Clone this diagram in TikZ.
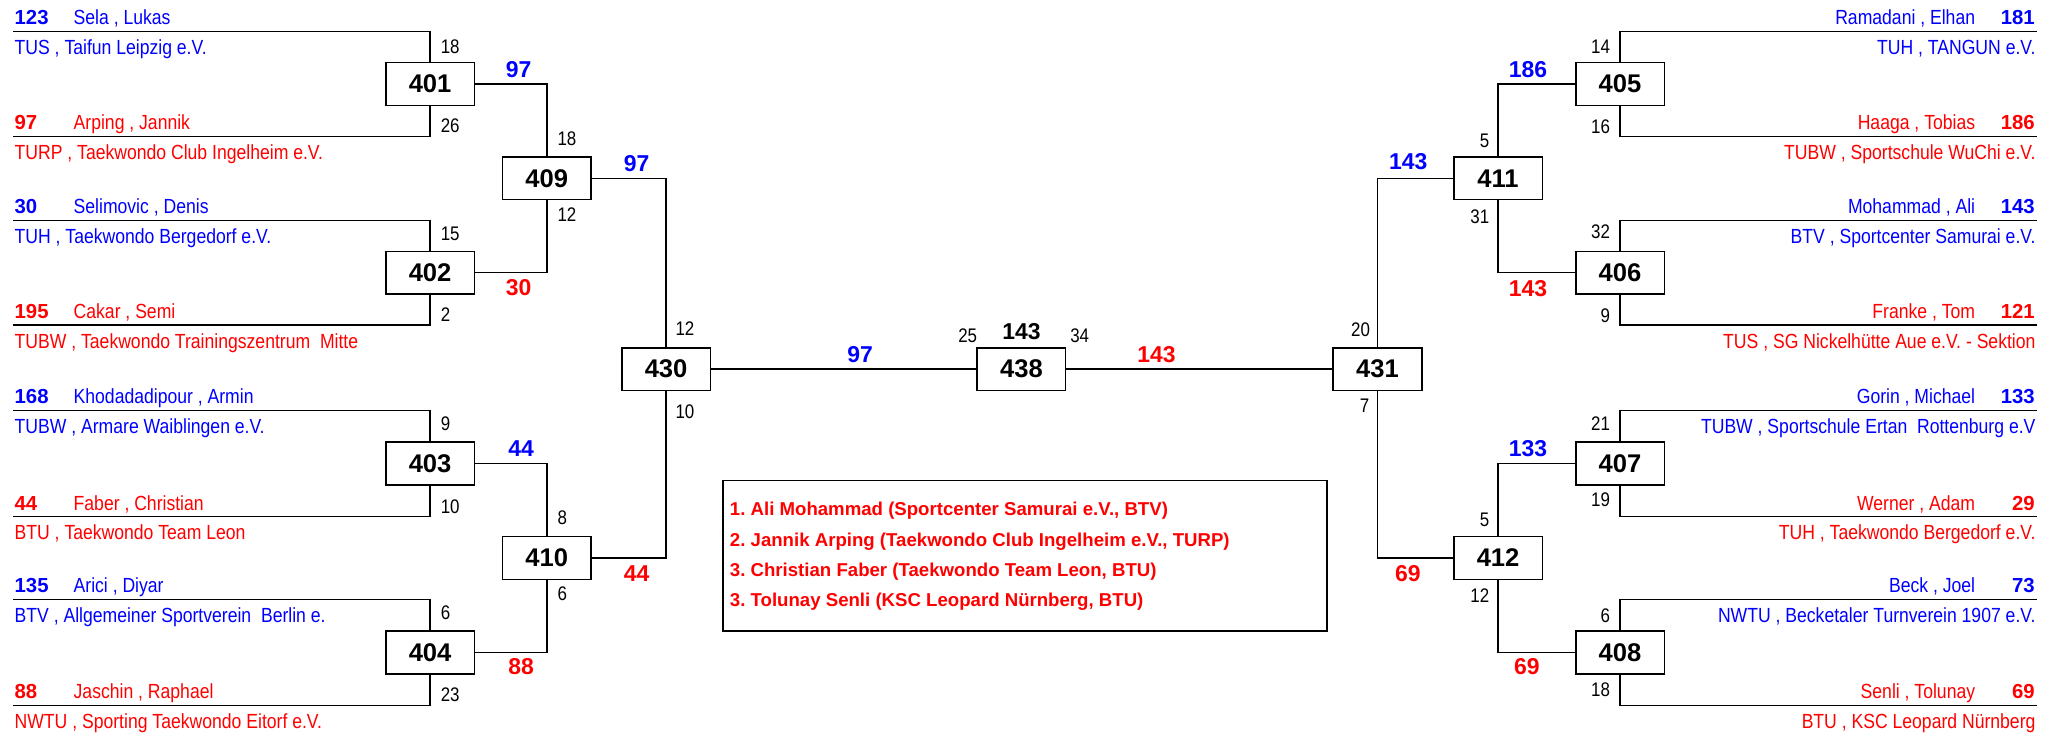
\documentclass[tikz,border=0pt]{standalone}
\usepackage{fontspec}
\setmainfont[FakeStretch=0.86]{Liberation Sans}
\newfontfamily\plainsans{Liberation Sans}
\definecolor{tblue}{RGB}{0,0,255}
\definecolor{tred}{RGB}{255,0,0}
\frenchspacing
\begin{document}
\begin{tikzpicture}[x=1pt,y=-1pt,
  ln/.style={line width=1.1pt},
  match/.style={draw,line width=1.2pt,minimum width=67.5pt,minimum height=32.6pt,inner sep=0pt,font=\plainsans\fontsize{19.5}{22}\selectfont\bfseries},
  pname/.style={font=\fontsize{15.6}{18}\selectfont,inner sep=0pt},
  pseed/.style={font=\plainsans\fontsize{15.5}{18}\selectfont\bfseries,inner sep=0pt},
  small/.style={font=\fontsize{15}{17}\selectfont,inner sep=0pt},
  win/.style={font=\plainsans\fontsize{17.5}{20}\selectfont\bfseries,inner sep=0pt},
  leg/.style={font=\plainsans\fontsize{14.2}{17}\selectfont\bfseries\frenchspacing,text=tred,inner sep=0pt,anchor=base west}]
\useasboundingbox (0,0) rectangle (1568,560);
% match boxes
\node[match] (m401) at (328,64) {401};
\node[match] (m402) at (328,208) {402};
\node[match] (m403) at (328,353.5) {403};
\node[match] (m404) at (328,497.5) {404};
\node[match] (m409) at (417,136) {409};
\node[match] (m410) at (417,425.5) {410};
\node[match] (m430) at (508,281.5) {430};
\node[match] (m438) at (779,281.5) {438};
\node[match] (m431) at (1050.5,281.5) {431};
\node[match] (m411) at (1142.5,136) {411};
\node[match] (m412) at (1142.5,425.5) {412};
\node[match] (m405) at (1235.5,64) {405};
\node[match] (m406) at (1235.5,208) {406};
\node[match] (m407) at (1235.5,353.5) {407};
\node[match] (m408) at (1235.5,497.5) {408};
% player line ends
\coordinate (L1) at (10,24);   \coordinate (L2) at (10,104);
\coordinate (L3) at (10,168);  \coordinate (L4) at (10,248);
\coordinate (L5) at (10,313);  \coordinate (L6) at (10,394);
\coordinate (L7) at (10,457);  \coordinate (L8) at (10,538);
\coordinate (R1) at (1553.5,24);   \coordinate (R2) at (1553.5,104);
\coordinate (R3) at (1553.5,168);  \coordinate (R4) at (1553.5,248);
\coordinate (R5) at (1553.5,313);  \coordinate (R6) at (1553.5,394);
\coordinate (R7) at (1553.5,457);  \coordinate (R8) at (1553.5,538);
% connectors
\draw[ln] (L1) -| (m401.north); \draw[ln] (L2) -| (m401.south);
\draw[ln] (L3) -| (m402.north); \draw[ln] (L4) -| (m402.south);
\draw[ln] (L5) -| (m403.north); \draw[ln] (L6) -| (m403.south);
\draw[ln] (L7) -| (m404.north); \draw[ln] (L8) -| (m404.south);
\draw[ln] (R1) -| (m405.north); \draw[ln] (R2) -| (m405.south);
\draw[ln] (R3) -| (m406.north); \draw[ln] (R4) -| (m406.south);
\draw[ln] (R5) -| (m407.north); \draw[ln] (R6) -| (m407.south);
\draw[ln] (R7) -| (m408.north); \draw[ln] (R8) -| (m408.south);
\draw[ln] (m401.east) -| (m409.north); \draw[ln] (m402.east) -| (m409.south);
\draw[ln] (m403.east) -| (m410.north); \draw[ln] (m404.east) -| (m410.south);
\draw[ln] (m409.east) -| (m430.north); \draw[ln] (m410.east) -| (m430.south);
\draw[ln] (m405.west) -| (m411.north); \draw[ln] (m406.west) -| (m411.south);
\draw[ln] (m407.west) -| (m412.north); \draw[ln] (m408.west) -| (m412.south);
\draw[ln] (m411.west) -| (m431.north); \draw[ln] (m412.west) -| (m431.south);
\draw[ln] (m430.east) -- (m438.west);
\draw[ln] (m438.east) -- (m431.west);
% left players
\foreach \y/\s/\c/\n/\k [count=\i] in {
  24/123/tblue/{Sela , Lukas}/{TUS , Taifun Leipzig e.V.},
  104/97/tred/{Arping , Jannik}/{TURP , Taekwondo Club Ingelheim e.V.},
  168/30/tblue/{Selimovic , Denis}/{TUH , Taekwondo Bergedorf e.V.},
  248/195/tred/{Cakar , Semi}/{TUBW , Taekwondo Trainingszentrum\ \ Mitte},
  313/168/tblue/{Khodadadipour , Armin}/{TUBW , Armare Waiblingen e.V.},
  394/44/tred/{Faber , Christian}/{BTU , Taekwondo Team Leon},
  457/135/tblue/{Arici , Diyar}/{BTV , Allgemeiner Sportverein\ \ Berlin e.},
  538/88/tred/{Jaschin , Raphael}/{NWTU , Sporting Taekwondo Eitorf e.V.}}{
  \node[pseed,text=\c,anchor=base west] (ls\i) at (11,\y-5) {\s};
  \node[pname,text=\c,anchor=base west] (ln\i) at (56,\y-5) {\n};
  \node[pname,text=\c,anchor=base west] (lc\i) at (11,\y+17.5) {\k};
}
% right players
\foreach \y/\s/\c/\n/\k [count=\i] in {
  24/181/tblue/{Ramadani , Elhan}/{TUH , TANGUN e.V.},
  104/186/tred/{Haaga , Tobias}/{TUBW , Sportschule WuChi e.V.},
  168/143/tblue/{Mohammad , Ali}/{BTV , Sportcenter Samurai e.V.},
  248/121/tred/{Franke , Tom}/{TUS , SG Nickelhütte Aue e.V. - Sektion},
  313/133/tblue/{Gorin , Michael}/{TUBW , Sportschule Ertan\ \ Rottenburg e.V},
  394/29/tred/{Werner , Adam}/{TUH , Taekwondo Bergedorf e.V.},
  457/73/tblue/{Beck , Joel}/{NWTU , Becketaler Turnverein 1907 e.V.},
  538/69/tred/{Senli , Tolunay}/{BTU , KSC Leopard Nürnberg}}{
  \node[pseed,text=\c,anchor=base east] (rs\i) at (1552,\y-5) {\s};
  \node[pname,text=\c,anchor=base east] (rn\i) at (1506.5,\y-5) {\n};
  \node[pname,text=\c,anchor=base east] (rc\i) at (1552.5,\y+17.5) {\k};
}
% small score labels, left
\foreach \x/\y/\t [count=\i] in {336/35.6/18, 336/96/26, 336/178/15, 336/240/2,
  336/323/9, 336/386.5/10, 336/467/6, 336/530/23,
  425/105.6/18, 425/164/12, 425/395.2/8, 425/452.7/6,
  515/251/12, 515/314/10}{
  \node[small,anchor=west] (sl\i) at (\x,\y) {\t};
}
% small score labels, right
\foreach \x/\y/\t [count=\i] in {1228/35.6/14, 1228/96.7/16, 1228/176.8/32, 1228/240.5/9,
  1228/323/21, 1228/381.4/19, 1228/469.7/6, 1228/525.7/18,
  1136/107.6/5, 1136/165.4/31, 1136/396.4/5, 1136/454.4/12,
  1045/251.2/20, 1044.5/309.4/7}{
  \node[small,anchor=east] (sr\i) at (\x,\y) {\t};
}
\node[small] (s25) at (738,256.3) {25};
\node[small] (s34) at (823.4,256.3) {34};
\node[win] (champ) at (779,253.2) {143};
% winner labels
\node[win,text=tblue] (w1) at (395.5,53.4) {97};
\node[win,text=tred]  (w2) at (395.5,219) {30};
\node[win,text=tblue] (w3) at (397.5,342.5) {44};
\node[win,text=tred]  (w4) at (397.5,508) {88};
\node[win,text=tblue] (w5) at (485.5,125) {97};
\node[win,text=tred]  (w6) at (485.5,437.4) {44};
\node[win,text=tblue] (w7) at (656,270.8) {97};
\node[win,text=tred]  (w8) at (882,270.8) {143};
\node[win,text=tblue] (w9) at (1165.3,53.4) {186};
\node[win,text=tred]  (w10) at (1165.3,220) {143};
\node[win,text=tblue] (w11) at (1165.3,342.5) {133};
\node[win,text=tred]  (w12) at (1164.5,508.6) {69};
\node[win,text=tblue] (w13) at (1074,123.4) {143};
\node[win,text=tred]  (w14) at (1073.7,437.4) {69};
% legend
\node[draw,line width=1.2pt,minimum width=460.5pt,minimum height=114.5pt,inner sep=0pt,anchor=north west] (legend) at (551,366) {};
\node[leg] (g1) at (556.5,392.8) {1. Ali Mohammad (Sportcenter Samurai e.V., BTV)};
\node[leg] (g2) at (556.5,416.9) {2. Jannik Arping (Taekwondo Club Ingelheim e.V., TURP)};
\node[leg] (g3) at (556.5,439.8) {3. Christian Faber (Taekwondo Team Leon, BTU)};
\node[leg] (g4) at (556.5,462.7) {3. Tolunay Senli (KSC Leopard Nürnberg, BTU)};
\end{tikzpicture}
\end{document}
